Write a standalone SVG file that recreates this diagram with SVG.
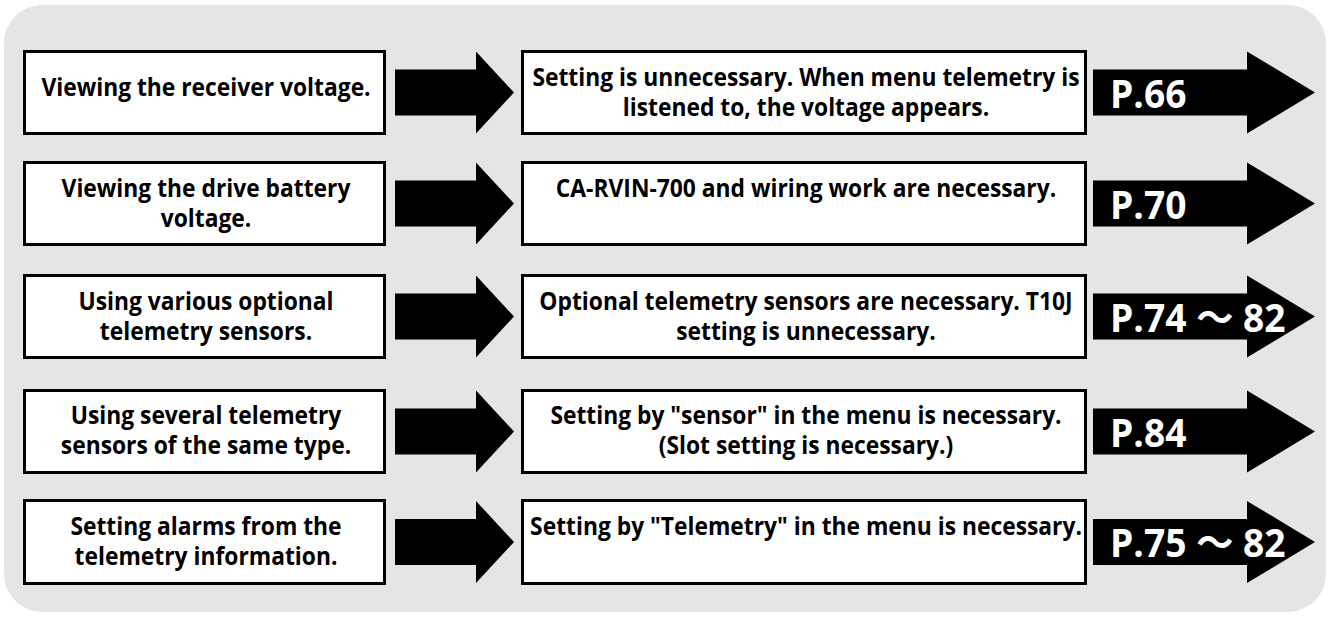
<svg xmlns="http://www.w3.org/2000/svg" width="1330" height="621" viewBox="0 0 1330 621">
<style>
.bg{fill:#e5e5e5}
.box{fill:#fff;stroke:#000;stroke-width:3}
.arr{fill:#000}
.t{font-family:"Open Sans","Noto Sans","Noto Sans CJK JP",sans-serif;font-weight:700;font-size:25.5px;text-anchor:middle;fill:#000}
.p{font-family:"Open Sans","Noto Sans","Noto Sans CJK JP",sans-serif;font-weight:700;font-size:40px;text-anchor:start;fill:#fff}
</style>
<defs>
<polygon id="small" points="395,-23 476,-23 476,-41 514,0 476,41 476,23 395,23"/>
<polygon id="big" points="1093,-23 1247,-23 1247,-41 1315,0 1247,41 1247,23 1093,23"/>
</defs>
<rect class="bg" x="4" y="5" width="1322" height="607" rx="38"/>

<g id="connectors">
<use href="#small" class="arr" transform="translate(0,92.5)"/>
<use href="#small" class="arr" transform="translate(0,203.5)"/>
<use href="#small" class="arr" transform="translate(0,316.5)"/>
<use href="#small" class="arr" transform="translate(0,431.5)"/>
<use href="#small" class="arr" transform="translate(0,542)"/>
</g>

<g id="need1">
<rect class="box" x="24.5" y="51.5" width="360" height="82"/>
<text class="t" transform="translate(206,96) scale(0.895,1)">Viewing the receiver voltage.</text>
</g>
<g id="need2">
<rect class="box" x="24.5" y="162.5" width="360" height="82"/>
<text class="t" transform="translate(206,197) scale(0.895,1)"><tspan x="0" y="0">Viewing the drive battery</tspan><tspan x="0" y="30.5">voltage.</tspan></text>
</g>
<g id="need3">
<rect class="box" x="24.5" y="275.5" width="360" height="82"/>
<text class="t" transform="translate(206,310) scale(0.895,1)"><tspan x="0" y="0">Using various optional</tspan><tspan x="0" y="30.5">telemetry sensors.</tspan></text>
</g>
<g id="need4">
<rect class="box" x="24.5" y="390.5" width="360" height="82"/>
<text class="t" transform="translate(206,424) scale(0.895,1)"><tspan x="0" y="0">Using several telemetry</tspan><tspan x="0" y="30.5">sensors of the same type.</tspan></text>
</g>
<g id="need5">
<rect class="box" x="24.5" y="500.5" width="360" height="83"/>
<text class="t" transform="translate(206,535) scale(0.895,1)"><tspan x="0" y="0">Setting alarms from the</tspan><tspan x="0" y="30.5">telemetry information.</tspan></text>
</g>

<g id="todo1">
<rect class="box" x="522.5" y="51.5" width="563" height="82"/>
<text class="t" transform="translate(806,86) scale(0.895,1)"><tspan x="0" y="0">Setting is unnecessary. When menu telemetry is</tspan><tspan x="0" y="30.5">listened to, the voltage appears.</tspan></text>
</g>
<g id="todo2">
<rect class="box" x="522.5" y="162.5" width="563" height="82"/>
<text class="t" transform="translate(806,197) scale(0.895,1)">CA-RVIN-700 and wiring work are necessary.</text>
</g>
<g id="todo3">
<rect class="box" x="522.5" y="275.5" width="563" height="82"/>
<text class="t" transform="translate(806,310) scale(0.895,1)"><tspan x="0" y="0">Optional telemetry sensors are necessary. T10J</tspan><tspan x="0" y="30.5">setting is unnecessary.</tspan></text>
</g>
<g id="todo4">
<rect class="box" x="522.5" y="390.5" width="563" height="82"/>
<text class="t" transform="translate(806,424) scale(0.895,1)"><tspan x="0" y="0">Setting by "sensor" in the menu is necessary.</tspan><tspan x="0" y="30.5">(Slot setting is necessary.)</tspan></text>
</g>
<g id="todo5">
<rect class="box" x="522.5" y="500.5" width="563" height="83"/>
<text class="t" transform="translate(806,535) scale(0.895,1)">Setting by "Telemetry" in the menu is necessary.</text>
</g>

<g id="page1">
<use href="#big" class="arr" transform="translate(0,92.5)"/>
<text class="p" transform="translate(1110,107.5) scale(0.93,1)">P.66</text>
</g>
<g id="page2">
<use href="#big" class="arr" transform="translate(0,203.5)"/>
<text class="p" transform="translate(1110,218.5) scale(0.93,1)">P.70</text>
</g>
<g id="page3">
<use href="#big" class="arr" transform="translate(0,316.5)"/>
<text class="p" transform="translate(1110,331.5) scale(0.93,1)">P.74 ～ 82</text>
</g>
<g id="page4">
<use href="#big" class="arr" transform="translate(0,431.5)"/>
<text class="p" transform="translate(1110,446.5) scale(0.93,1)">P.84</text>
</g>
<g id="page5">
<use href="#big" class="arr" transform="translate(0,542)"/>
<text class="p" transform="translate(1110,557) scale(0.93,1)">P.75 ～ 82</text>
</g>
</svg>
